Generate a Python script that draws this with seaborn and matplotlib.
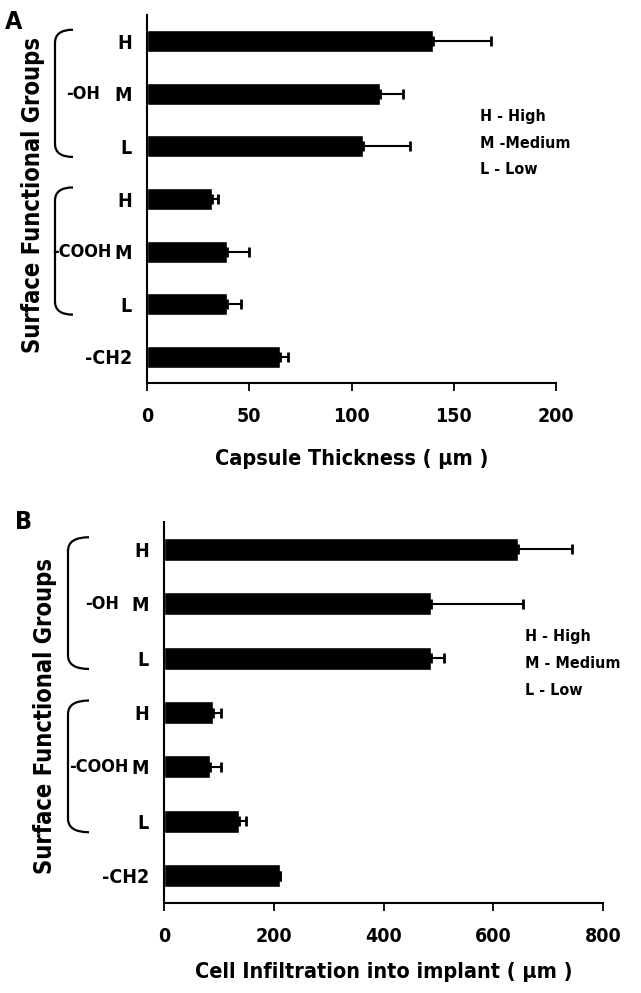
import numpy as np
import pandas as pd
import matplotlib
matplotlib.use("Agg")
import matplotlib.pyplot as plt
import matplotlib.transforms as mtransforms
from matplotlib.path import Path
from matplotlib.patches import PathPatch
import seaborn as sns

sns.set_theme(style="white")
plt.rcParams['font.family'] = ['Liberation Sans Narrow', 'DejaVu Sans']
plt.rcParams['font.weight'] = 'bold'
plt.rcParams['font.stretch'] = 'condensed'
for k in ["text.color", "axes.labelcolor", "xtick.color", "ytick.color"]:
    plt.rcParams[k] = "black"

# data
categories = ["OH-H", "OH-M", "OH-L", "COOH-H", "COOH-M", "COOH-L", "CH2"]
tick_labels = ["H", "M", "L", "H", "M", "L", "-CH2"]
capsule_mean = [140, 114, 105.5, 32, 39, 39, 65]
capsule_err = [28, 11, 23, 2.5, 11, 7, 4]
infil_mean = [645, 487, 487, 89, 84, 136, 212]
infil_err = [99, 167, 23, 15, 20, 13, 0]
legend_a = ["H - High", "M -Medium", "L - Low"]
legend_b = ["H - High", "M - Medium", "L - Low"]

df = pd.DataFrame({"cat": categories, "capsule": capsule_mean,
                   "infil": infil_mean})

fig = plt.figure(figsize=(6.41, 9.93), dpi=100)
W, H = 641, 993


def px_axes(l, t, r, b):
    return fig.add_axes([l / W, 1 - b / H, (r - l) / W, (b - t) / H])


def draw_panel(ax, col, err, xmax, ticks, xlabel, legend, brace_x, grp_x,
               leg_x, leg_y, lpad):
    sns.barplot(data=df, x=col, y="cat", orient="h", color="black",
                width=0.42, errorbar=None, ax=ax, saturation=1)
    pos = np.arange(len(categories))
    ax.errorbar(df[col], pos, xerr=[np.zeros(len(err)), err], fmt="none",
                ecolor="black", elinewidth=1.5, capsize=3.5, capthick=2)
    ax.set_xlim(0, xmax)
    ax.set_ylim(len(categories) - 0.5, -0.5)
    ax.set_xticks(ticks)
    ax.set_xticklabels([str(t) for t in ticks], fontsize=14,
                       fontweight="bold")
    ax.set_yticks(pos)
    ax.set_yticklabels(tick_labels, fontsize=14, fontweight="bold")
    ax.tick_params(axis="y", length=0, pad=11)
    ax.tick_params(axis="x", length=6, width=1.3, direction="out",
                   pad=11, bottom=True)
    for s in ["top", "right"]:
        ax.spines[s].set_visible(False)
    for s in ["left", "bottom"]:
        ax.spines[s].set_color("black")
        ax.spines[s].set_linewidth(1.5)
    ax.set_xlabel(xlabel, fontsize=15.5, fontweight="bold", labelpad=lpad)
    ax.set_ylabel("")

    # legend-like text
    for i, t in enumerate(legend):
        ax.text(leg_x, leg_y + i * 0.5, t, fontsize=11.5, fontweight="bold",
                ha="left", va="center")

    # group braces and labels
    tr = mtransforms.blended_transform_factory(fig.transFigure, ax.transData)
    xv, xh = brace_x
    for lo, hi, name, gx in [(0, 2, "-OH", grp_x[0]),
                             (3, 5, "-COOH", grp_x[1])]:
        y0, y1 = lo - 0.22, hi + 0.2
        verts = [(xh, y0), (xv, y0), (xv, y0 + 0.25), (xv, y1 - 0.25),
                 (xv, y1), (xh, y1)]
        codes = [Path.MOVETO, Path.CURVE3, Path.CURVE3, Path.LINETO,
                 Path.CURVE3, Path.CURVE3]
        patch = PathPatch(Path(verts, codes), transform=tr, fill=False,
                          lw=1.6, edgecolor="black", clip_on=False)
        fig.add_artist(patch)
        fig.text(gx, lo + 1, name, fontsize=13, fontweight="bold",
                 ha="center", va="center", transform=tr)


axA = px_axes(147, 15, 556, 383)
draw_panel(axA, "capsule", capsule_err, 200, [0, 50, 100, 150, 200],
           "Capsule Thickness ( µm )", legend_a, (55 / W, 73 / W),
           (83 / W, 82 / W), 163, 1.44, 17)

axB = px_axes(164, 522, 603, 903)
draw_panel(axB, "infil", infil_err, 800, [0, 200, 400, 600, 800],
           "Cell Infiltration into implant ( µm )", legend_b,
           (68 / W, 89 / W), (102 / W, 99 / W), 657, 1.6, 12)

fig.text(33 / W, 1 - 195 / H, "Surface Functional Groups", rotation=90,
         fontsize=17, fontweight="bold", ha="center", va="center")
fig.text(45 / W, 1 - 716 / H, "Surface Functional Groups", rotation=90,
         fontsize=17, fontweight="bold", ha="center", va="center")
fig.text(14 / W, 1 - 22 / H, "A", fontsize=18, fontweight="bold",
         ha="center", va="center")
fig.text(24 / W, 1 - 522 / H, "B", fontsize=18, fontweight="bold",
         ha="center", va="center")

fig.savefig("out.png", dpi=100)
